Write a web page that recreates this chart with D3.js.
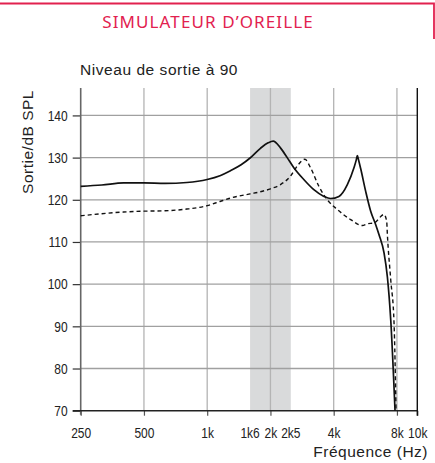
<!DOCTYPE html>
<html><head><meta charset="utf-8">
<script src="https://cdn.jsdelivr.net/npm/d3@7"></script>
<style>
html,body{margin:0;padding:0;background:#fff;}
svg{display:block;}
</style></head>
<body>
<svg id="c" width="435" height="463"></svg>
<script>
// ---- data ----
const title = "SIMULATEUR D\u2019OREILLE";
const subtitle = "Niveau de sortie \u00e0 90";
const yLabel = "Sortie/dB SPL";
const xLabel = "Fr\u00e9quence (Hz)";
const xTickValues = [250, 500, 1000, 1600, 2000, 2500, 4000, 8000, 10000];
const xTickLabels = ["250", "500", "1k", "1k6", "2k", "2k5", "4k", "8k", "10k"];
const xGridValues = [500, 1000, 2000, 4000, 8000];
const yTickValues = [70, 80, 90, 100, 110, 120, 130, 140];
const bandRange = [1600, 2500];

const solidFreq = [250, 315, 400, 500, 630, 800, 1000, 1150, 1290, 1450, 1600, 1792, 1950, 2061, 2232, 2403, 2584, 2884, 3218, 3593, 3867, 4236, 4646, 4995, 5120, 5184, 5250, 5376, 5680, 6000, 6340, 6575, 6945, 7205, 7475, 7835];
const solidDb   = [123.2, 123.5, 124.0, 124.0, 123.9, 124.1, 124.8, 125.7, 126.9, 128.3, 129.9, 132.2, 133.5, 133.9, 132.3, 130.0, 127.6, 124.8, 122.4, 120.8, 120.3, 120.8, 123.6, 127.6, 129.4, 130.5, 129.5, 127.4, 122.0, 117.3, 114.1, 111.7, 107.4, 101.7, 91.5, 70];

const dashFreq = [250, 315, 400, 500, 630, 800, 1000, 1150, 1290, 1600, 1792, 2000, 2232, 2490, 2681, 2916, 3103, 3401, 3729, 4161, 4817, 5475, 5785, 6220, 6945, 7150, 7205, 7475, 7750, 7920];
const dashDb   = [116.2, 116.7, 117.1, 117.3, 117.4, 117.8, 118.6, 119.6, 120.4, 121.4, 121.9, 122.6, 123.6, 125.6, 128.0, 129.6, 127.6, 123.2, 120.0, 117.7, 115.3, 113.9, 114.3, 114.5, 116.5, 114.9, 111.7, 101.0, 90.8, 70];

// ---- layout ----
const svg = d3.select("#c");
const x = d3.scaleLog().domain([250, 10000]).range([80.7, 417.3]);
const y = d3.scaleLinear().domain([70, 146.5]).range([410.7, 88]);
const ff = "'Liberation Sans', Arial, sans-serif";
const red = "#e2214f";
const sx = 0.8; // condensed tick labels

// frame
svg.append("path").attr("d", "M0,3.5H434V39").attr("fill", "none").attr("stroke", red).attr("stroke-width", 1.8);
svg.append("text").attr("x", 208).attr("y", 28).attr("text-anchor", "middle")
  .attr("font-family", "'Noto Sans', Lato, sans-serif").attr("font-size", 17).attr("letter-spacing", 1.1)
  .attr("fill", red).text(title);

svg.append("text").attr("x", 80).attr("y", 75).attr("font-family", ff).attr("font-size", 15.5)
  .attr("letter-spacing", 0.55).attr("fill", "#222").text(subtitle);

// band
svg.append("rect").attr("x", x(bandRange[0])).attr("y", y.range()[1])
  .attr("width", x(bandRange[1]) - x(bandRange[0])).attr("height", y.range()[0] - y.range()[1]).attr("fill", "#d9dadb");

// grid
svg.append("g").selectAll("line").data(xGridValues).join("line")
  .attr("x1", d => x(d)).attr("x2", d => x(d)).attr("y1", y.range()[1]).attr("y2", y.range()[0])
  .attr("stroke", "#b4b4b4").attr("stroke-width", 1.3);
svg.append("g").selectAll("line").data(yTickValues.filter(v => v > 70)).join("line")
  .attr("x1", x.range()[0]).attr("x2", x.range()[1]).attr("y1", d => y(d)).attr("y2", d => y(d))
  .attr("stroke", "#a0a0a0").attr("stroke-width", 1.3);

// axes
const yAxis = d3.axisLeft(y).tickValues(yTickValues).tickSize(8).tickPadding(5);
const gy = svg.append("g").attr("transform", `translate(${x.range()[0]},0)`).call(yAxis);
gy.select(".domain").remove();
gy.selectAll(".tick line").attr("stroke", "#333").attr("stroke-width", 1.2);
gy.selectAll(".tick text").attr("font-family", ff).attr("font-size", 15).attr("fill", "#222")
  .attr("x", -13 / sx).attr("transform", `scale(${sx},1)`);

const xAxis = d3.axisBottom(x).tickValues(xTickValues.filter(v => v !== 1600 && v !== 2500)).tickSize(5).tickPadding(12)
  .tickFormat(d => xTickLabels[xTickValues.indexOf(d)]);
const gx = svg.append("g").attr("transform", `translate(0,${y.range()[0]})`).call(xAxis);
gx.select(".domain").remove();
gx.selectAll(".tick line").attr("stroke", "#555").attr("stroke-width", 1.2);
gx.selectAll(".tick text").attr("font-family", ff).attr("font-size", 15).attr("fill", "#222")
  .attr("transform", `scale(${sx},1)`);
// band edge labels (no tick line)
svg.append("g").selectAll("text").data(xTickValues.filter(v => v === 1600 || v === 2500)).join("text")
  .attr("transform", d => `translate(${x(d)},${y.range()[0] + 27.7}) scale(${sx},1)`).attr("text-anchor", "middle")
  .attr("font-family", ff).attr("font-size", 15).attr("fill", "#222")
  .text(d => xTickLabels[xTickValues.indexOf(d)]);

// axis lines
svg.append("line").attr("x1", x.range()[0]).attr("x2", x.range()[0]).attr("y1", y.range()[1]).attr("y2", y.range()[0] + 4)
  .attr("stroke", "#666").attr("stroke-width", 1.6);
svg.append("line").attr("x1", x.range()[0] - 8).attr("x2", x.range()[1]).attr("y1", y.range()[0]).attr("y2", y.range()[0])
  .attr("stroke", "#222").attr("stroke-width", 1.4);
svg.append("line").attr("x1", x.range()[1]).attr("x2", x.range()[1]).attr("y1", y.range()[1]).attr("y2", y.range()[0] + 5)
  .attr("stroke", "#111").attr("stroke-width", 1.4);

// curves
const line = d3.line().x(d => x(d[0])).y(d => y(d[1])).curve(d3.curveMonotoneX);
svg.append("path").datum(dashFreq.map((f, i) => [f, dashDb[i]])).attr("d", line)
  .attr("fill", "none").attr("stroke", "#111").attr("stroke-width", 1.4).attr("stroke-dasharray", "4,3");
svg.append("path").datum(solidFreq.map((f, i) => [f, solidDb[i]])).attr("d", line)
  .attr("fill", "none").attr("stroke", "#111").attr("stroke-width", 1.7);

// labels
svg.append("text").attr("transform", "translate(33,142) rotate(-90)").attr("text-anchor", "middle")
  .attr("font-family", ff).attr("font-size", 15.5).attr("letter-spacing", 0.5).attr("fill", "#222").text(yLabel);
svg.append("text").attr("x", 428).attr("y", 457).attr("text-anchor", "end")
  .attr("font-family", ff).attr("font-size", 15.5).attr("letter-spacing", 0.5).attr("fill", "#222").text(xLabel);
</script>
</body></html>
